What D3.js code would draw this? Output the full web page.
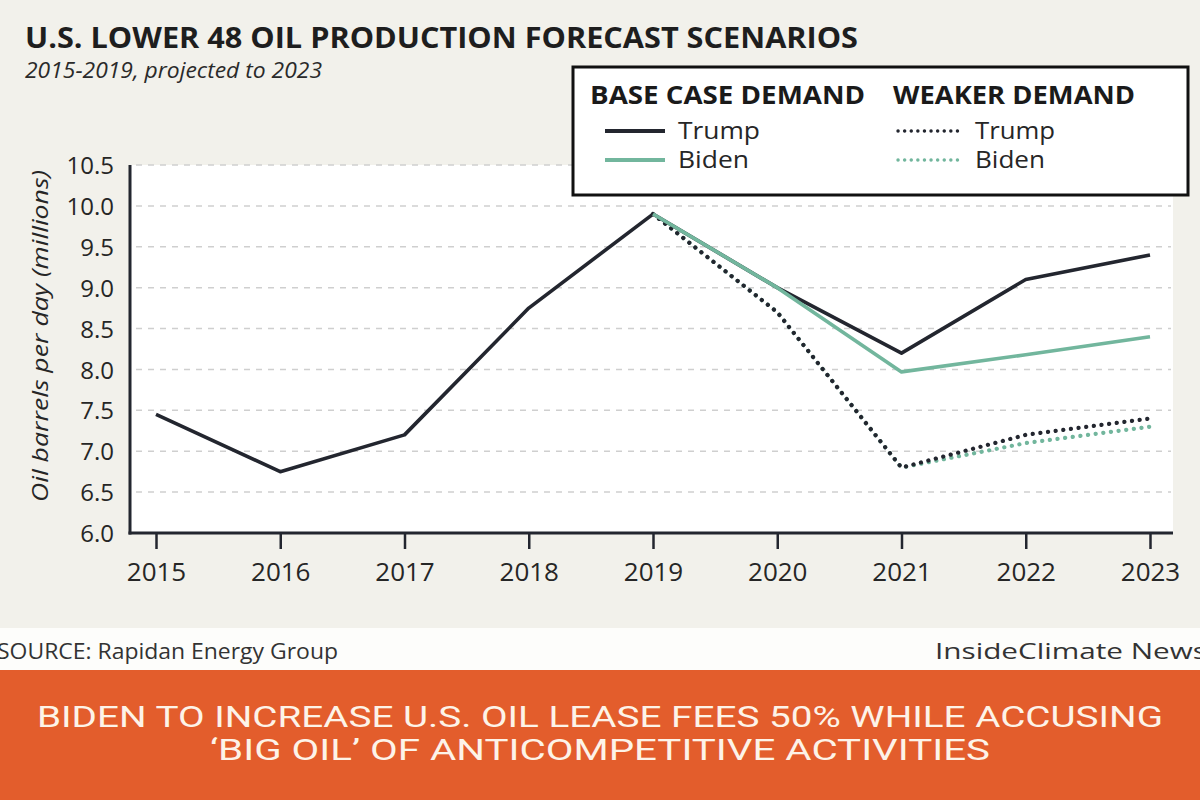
<!DOCTYPE html>
<html>
<head>
<meta charset="utf-8">
<script src="https://cdn.jsdelivr.net/npm/d3@7"></script>
<style>
  html, body { margin: 0; padding: 0; background: #f2f1eb; }
  svg { display: block; }
</style>
</head>
<body>
<svg id="chart" width="1200" height="800"></svg>
<script>
// ---------------- data ----------------
const years = [2015, 2016, 2017, 2018, 2019, 2020, 2021, 2022, 2023];
const trumpBase = [7.45, 6.75, 7.2, 8.75, 9.9, 9.0, 8.2, 9.1, 9.4];
const bidenBase = [null, null, null, null, 9.9, 9.0, 7.97, 8.18, 8.4];
const trumpWeak = [null, null, null, null, 9.9, 8.7, 6.8, 7.2, 7.4];
const bidenWeak = [null, null, null, null, 9.9, 8.7, 6.8, 7.1, 7.3];
const yTicks = [6.0, 6.5, 7.0, 7.5, 8.0, 8.5, 9.0, 9.5, 10.0, 10.5];
const legendHeaders = ["BASE CASE DEMAND", "WEAKER DEMAND"];
const legendNames = ["Trump", "Biden"];
const titleText = "U.S. LOWER 48 OIL PRODUCTION FORECAST SCENARIOS";
const subtitleText = "2015-2019, projected to 2023";
const yTitle = "Oil barrels per day (millions)";
const sourceText = "SOURCE: Rapidan Energy Group";
const creditText = "InsideClimate News";
const bannerLines = ["BIDEN TO INCREASE U.S. OIL LEASE FEES 50% WHILE ACCUSING", "\u2018BIG OIL\u2019 OF ANTICOMPETITIVE ACTIVITIES"];

// ---------------- styles ----------------
const DARK = "#23262f";
const GREEN = "#72b69d";
const FONT = "'Open Sans', 'Noto Sans', sans-serif";

const svg = d3.select("#chart");

// layout
const plot = { left: 130, right: 1173, top: 165, bottom: 533 };
const x = d3.scaleLinear().domain([2015, 2023]).range([156, 1150]);
const y = d3.scaleLinear().domain([6, 10.5]).range([plot.bottom, plot.top]);

// background
svg.append("rect").attr("x", 0).attr("y", 0).attr("width", 1200).attr("height", 800).attr("fill", "#f2f1eb");
// white source strip
svg.append("rect").attr("x", 0).attr("y", 628).attr("width", 1200).attr("height", 42).attr("fill", "#fdfdfb");
// orange banner
svg.append("rect").attr("x", 0).attr("y", 670).attr("width", 1200).attr("height", 130).attr("fill", "#e35d2c");

// plot area
svg.append("rect")
  .attr("x", plot.left).attr("y", plot.top)
  .attr("width", plot.right - plot.left).attr("height", plot.bottom - plot.top)
  .attr("fill", "#ffffff");

// gridlines
svg.append("g").selectAll("line")
  .data(yTicks.filter(d => d > 6))
  .join("line")
  .attr("x1", plot.left + 6).attr("x2", plot.right - 2)
  .attr("y1", d => y(d)).attr("y2", d => y(d))
  .attr("stroke", "#cfcfcf").attr("stroke-width", 1.5)
  .attr("stroke-dasharray", "6,6");

// y axis labels
const yAxis = d3.axisLeft(y).tickValues(yTicks).tickFormat(d3.format(".1f")).tickSize(0).tickPadding(16);
const gy = svg.append("g").attr("transform", `translate(${plot.left},0)`).call(yAxis);
gy.select(".domain").remove();
gy.selectAll("text").attr("font-family", FONT).attr("font-size", 24).attr("fill", "#262626").attr("dy", "0.36em");

// x axis
const xAxis = d3.axisBottom(x).tickValues(years).tickFormat(d3.format("d")).tickSize(16).tickPadding(14);
const gx = svg.append("g").attr("transform", `translate(0,${plot.bottom})`).call(xAxis);
gx.select(".domain").remove();
gx.selectAll(".tick line").attr("stroke", DARK).attr("stroke-width", 2.5);
gx.selectAll("text").attr("font-family", FONT).attr("font-size", 26).attr("fill", "#262626");

// axis lines
svg.append("line").attr("x1", plot.left).attr("x2", plot.left).attr("y1", plot.top).attr("y2", plot.bottom + 1.5)
  .attr("stroke", DARK).attr("stroke-width", 3);
svg.append("line").attr("x1", plot.left - 1.5).attr("x2", plot.right).attr("y1", plot.bottom).attr("y2", plot.bottom)
  .attr("stroke", DARK).attr("stroke-width", 3);

// lines
const line = d3.line()
  .defined(d => d[1] != null)
  .x(d => x(d[0])).y(d => y(d[1]));
const zip = vals => years.map((yr, i) => [yr, vals[i]]);

function drawLine(vals, color, dotted) {
  const p = svg.append("path").datum(zip(vals))
    .attr("d", line).attr("fill", "none")
    .attr("stroke", color)
    .attr("stroke-linejoin", "round");
  if (dotted) {
    p.attr("stroke-width", 4.2).attr("stroke-linecap", "round").attr("stroke-dasharray", "0.1,7.6");
  } else {
    p.attr("stroke-width", 3.6).attr("stroke-linecap", "butt");
  }
}
drawLine(bidenWeak, GREEN, true);
drawLine(trumpWeak, DARK, true);
drawLine(trumpBase, DARK, false);
drawLine(bidenBase, GREEN, false);

// y axis title
svg.append("text")
  .attr("transform", "translate(48,336) rotate(-90)")
  .attr("text-anchor", "middle")
  .attr("font-family", FONT).attr("font-style", "italic").attr("font-size", 22)
  .attr("fill", "#262626")
  .attr("textLength", 332).attr("lengthAdjust", "spacingAndGlyphs")
  .text(yTitle);

// title & subtitle
svg.append("text").attr("x", 25).attr("y", 48)
  .attr("font-family", FONT).attr("font-weight", 700).attr("font-size", 29).attr("fill", "#1e1e1e")
  .attr("textLength", 833).attr("lengthAdjust", "spacingAndGlyphs")
  .text(titleText);
svg.append("text").attr("x", 25).attr("y", 78)
  .attr("font-family", FONT).attr("font-style", "italic").attr("font-size", 22).attr("fill", "#2a2a2a")
  .attr("textLength", 297).attr("lengthAdjust", "spacingAndGlyphs")
  .text(subtitleText);

// legend
const lg = svg.append("g");
lg.append("rect").attr("x", 573).attr("y", 67).attr("width", 615).attr("height", 128)
  .attr("fill", "#ffffff").attr("stroke", "#111111").attr("stroke-width", 3);
const hdrX = [590, 893], hdrW = [275, 242];
legendHeaders.forEach((h, i) => {
  lg.append("text").attr("x", hdrX[i]).attr("y", 104)
    .attr("font-family", FONT).attr("font-weight", 700).attr("font-size", 25).attr("fill", "#1a1a1a")
    .attr("textLength", hdrW[i]).attr("lengthAdjust", "spacingAndGlyphs")
    .text(h);
});
const itemColors = [DARK, GREEN];
const rowY = [131, 160];
const nameW = [[82, 71], [80, 70]];
[[605, 678, false], [898, 975, true]].forEach(([lx, tx, dotted], c) => {
  legendNames.forEach((n, r) => {
    const l = lg.append("line").attr("x1", lx).attr("x2", lx + 60).attr("y1", rowY[r]).attr("y2", rowY[r])
      .attr("stroke", itemColors[r]).attr("stroke-width", dotted ? 3.4 : 4);
    if (dotted) l.attr("stroke-linecap", "round").attr("stroke-dasharray", "0.1,6.5");
    lg.append("text").attr("x", tx).attr("y", rowY[r] + 8)
      .attr("font-family", FONT).attr("font-size", 23).attr("fill", "#262626")
      .attr("textLength", nameW[c][r]).attr("lengthAdjust", "spacingAndGlyphs")
      .text(n);
  });
});

// source & credit
svg.append("text").attr("x", -3).attr("y", 659)
  .attr("font-family", FONT).attr("font-size", 21).attr("fill", "#333333")
  .attr("textLength", 341).attr("lengthAdjust", "spacingAndGlyphs")
  .text(sourceText);
svg.append("text").attr("x", 935).attr("y", 659)
  .attr("font-family", FONT).attr("font-size", 21).attr("fill", "#333333")
  .attr("textLength", 272).attr("lengthAdjust", "spacingAndGlyphs")
  .text(creditText);

// banner text
const bannerY = [727, 760];
const bannerX = [[37, 1126], [210, 780]];
bannerLines.forEach((t, i) => {
  svg.append("text").attr("x", bannerX[i][0]).attr("y", bannerY[i])
    .attr("font-family", "Roboto, 'Open Sans', sans-serif").attr("font-weight", 400).attr("font-size", 30)
    .attr("fill", "#fdf3e8")
    .attr("textLength", bannerX[i][1]).attr("lengthAdjust", "spacingAndGlyphs")
    .text(t);
});
</script>
</body>
</html>
